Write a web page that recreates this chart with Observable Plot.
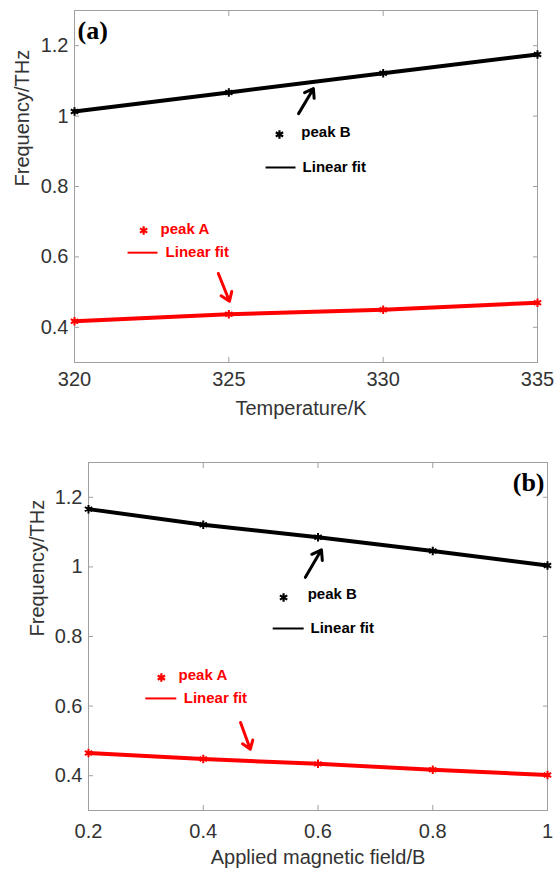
<!DOCTYPE html>
<html><head><meta charset="utf-8">
<script src="https://cdn.jsdelivr.net/npm/d3@7"></script>
<script src="https://cdn.jsdelivr.net/npm/@observablehq/plot@0.6"></script>
<style>
body{margin:0;background:#fff;width:555px;height:870px;overflow:hidden;font-family:"Liberation Sans",Arial,sans-serif}
#a{position:absolute;left:0;top:0}
#b{position:absolute;left:0;top:430px}
</style></head><body><div id="a"></div><div id="b"></div>
<script>
// ---- data ----
const temperature = [320, 325, 330, 335];
const peakA_T = [0.417, 0.437, 0.450, 0.470];
const peakB_T = [1.013, 1.067, 1.122, 1.175];
const field = [0.2, 0.4, 0.6, 0.8, 1.0];
const peakA_B = [0.465, 0.448, 0.434, 0.417, 0.402];
const peakB_B = [1.166, 1.121, 1.085, 1.046, 1.004];
const xTicksA = [320, 325, 330, 335];
const xTicksB = [0.2, 0.4, 0.6, 0.8, 1];
const yTicks = [0.4, 0.6, 0.8, 1, 1.2];
const yLabel = "Frequency/THz";
const xLabelA = "Temperature/K";
const xLabelB = "Applied magnetic field/B";

// annotation anchors (data coordinates)
const arrowsA = [
  {x1: 327.26, y1: 1.007, x2: 327.74, y2: 1.078, c: "black"},
  {x1: 324.66, y1: 0.553, x2: 325.02, y2: 0.474, c: "red"}
];
const starsA = [{x: 326.64, y: 0.948, c: "black"}, {x: 322.24, y: 0.675, c: "red"}];
const keyLinesA = [{x1: 326.19, x2: 327.16, y: 0.854, c: "black"}, {x1: 321.72, x2: 322.69, y: 0.612, c: "red"}];
const keyTextA = [
  {x: 327.35, y: 0.954, t: "peak B", c: "black"},
  {x: 327.39, y: 0.854, t: "Linear fit", c: "black"},
  {x: 322.79, y: 0.680, t: "peak A", c: "red"},
  {x: 322.95, y: 0.612, t: "Linear fit", c: "red"}
];
const arrowsB = [
  {x1: 0.578, y1: 0.970, x2: 0.606, y2: 1.049, c: "black"},
  {x1: 0.465, y1: 0.553, x2: 0.482, y2: 0.476, c: "red"}
];
const starsB = [{x: 0.540, y: 0.912, c: "black"}, {x: 0.327, y: 0.682, c: "red"}];
const keyLinesB = [{x1: 0.521, x2: 0.575, y: 0.823, c: "black"}, {x1: 0.299, x2: 0.353, y: 0.622, c: "red"}];
const keyTextB = [
  {x: 0.582, y: 0.922, t: "peak B", c: "black"},
  {x: 0.587, y: 0.823, t: "Linear fit", c: "black"},
  {x: 0.357, y: 0.688, t: "peak A", c: "red"},
  {x: 0.366, y: 0.622, t: "Linear fit", c: "red"}
];

function panel(o) {
  const rowsA = o.xs.map((x, i) => ({x, y: o.a[i]}));
  const rowsB = o.xs.map((x, i) => ({x, y: o.b[i]}));
  const tickCol = "#a0a0a0", txtCol = "#333";
  const tk = 5;
  return Plot.plot({
    width: 555, height: o.height,
    marginLeft: o.ml, marginRight: o.mr, marginTop: o.mt, marginBottom: o.mb,
    style: {fontFamily: "Liberation Sans, Arial, sans-serif", fontSize: "20px", background: "white", color: txtCol},
    x: {domain: o.xDomain},
    y: {domain: [0.3, 1.3]},
    color: {type: "identity"},
    marks: [
      Plot.frame({stroke: tickCol}),
      // tick labels
      Plot.axisX(o.xTicks, {anchor: "bottom", tickSize: 0, tickPadding: o.xpad, label: null, tickFormat: d => String(d), fill: txtCol}),
      Plot.axisY(yTicks, {anchor: "left", tickSize: 0, tickPadding: 6, label: null, tickFormat: d => String(d), fill: txtCol}),
      // inward ticks all round
      Plot.axisX(o.xTicks, {anchor: "bottom", tickSize: tk, dy: -tk, label: null, tickFormat: () => "", stroke: tickCol}),
      Plot.axisX(o.xTicks, {anchor: "top", tickSize: tk, dy: tk, label: null, tickFormat: () => "", stroke: tickCol}),
      Plot.axisY(yTicks, {anchor: "left", tickSize: tk, dx: tk, label: null, tickFormat: () => "", stroke: tickCol}),
      Plot.axisY(yTicks, {anchor: "right", tickSize: tk, dx: -tk, label: null, tickFormat: () => "", stroke: tickCol}),
      // axis titles
      Plot.text([o.xLabel], {frameAnchor: "bottom", dy: o.xlDy, dx: o.xlDx, fontSize: 20, fill: txtCol}),
      Plot.text([yLabel], {frameAnchor: "left", rotate: -90, dx: o.ylDx, fontSize: 20, fill: txtCol}),
      // data
      Plot.line(rowsB, {x: "x", y: "y", stroke: "black", strokeWidth: 4}),
      Plot.dot(rowsB, {x: "x", y: "y", symbol: "asterisk", r: 4, stroke: "black", strokeWidth: 2}),
      Plot.line(rowsA, {x: "x", y: "y", stroke: "#ff0000", strokeWidth: 4}),
      Plot.dot(rowsA, {x: "x", y: "y", symbol: "asterisk", r: 4, stroke: "#ff0000", strokeWidth: 2}),
      // annotations
      Plot.arrow(o.arrows, {x1: "x1", y1: "y1", x2: "x2", y2: "y2", stroke: d => d.c === "red" ? "#ff0000" : "black", strokeWidth: 3, headLength: 10, headAngle: 70}),
      Plot.dot(o.stars, {x: "x", y: "y", symbol: "asterisk", r: 4, stroke: d => d.c === "red" ? "#ff0000" : "black", strokeWidth: 2.2}),
      Plot.link(o.keyLines, {x1: "x1", x2: "x2", y1: "y", y2: "y", stroke: d => d.c === "red" ? "#ff0000" : "black", strokeWidth: 2}),
      Plot.text(o.keyText, {x: "x", y: "y", text: "t", textAnchor: "start", fontSize: 15, fontWeight: "bold", fill: d => d.c === "red" ? "#ff0000" : "black"}),
      Plot.text([o.tag], {frameAnchor: o.tagAnchor, dx: o.tagDx, dy: 10, lineAnchor: "top", fontSize: 26, fontWeight: "bold", fontFamily: "Liberation Serif, Times New Roman, serif", fill: "black"})
    ]
  });
}

document.getElementById("a").append(panel({
  height: 430, ml: 74, mr: 18, mt: 10, mb: 68,
  xs: temperature, a: peakA_T, b: peakB_T, xDomain: [320, 335], xTicks: xTicksA, xpad: 9,
  xLabel: xLabelA, xlDx: -5, xlDy: 52, ylDx: -52,
  arrows: arrowsA, stars: starsA, keyLines: keyLinesA, keyText: keyTextA,
  tag: "(a)", tagAnchor: "top-left", tagDx: 3
}));
document.getElementById("b").append(panel({
  height: 440, ml: 88, mr: 8, mt: 32, mb: 60,
  xs: field, a: peakA_B, b: peakB_B, xDomain: [0.2, 1], xTicks: xTicksB, xpad: 13,
  xLabel: xLabelB, xlDx: 0, xlDy: 53, ylDx: -51,
  arrows: arrowsB, stars: starsB, keyLines: keyLinesB, keyText: keyTextB,
  tag: "(b)", tagAnchor: "top-right", tagDx: -3
}));
</script>
</body></html>
